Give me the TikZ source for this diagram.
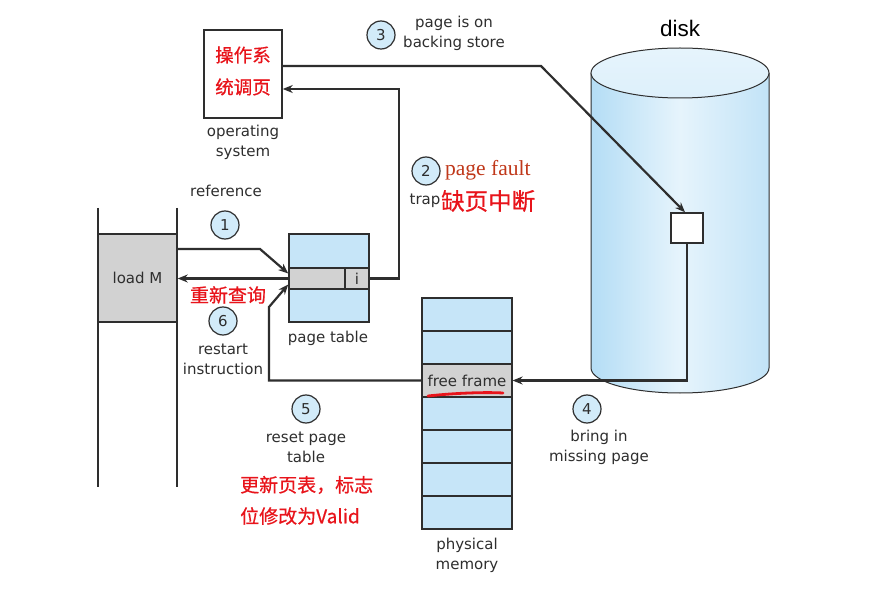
\documentclass[tikz,border=0pt]{standalone}
\usepackage{fontspec}
\setmainfont{DejaVu Sans}
\newfontfamily\cjk[BoldFont={Noto Sans CJK SC}, BoldFeatures={FakeBold=0.6}]{Noto Sans CJK SC}
\newfontfamily\serifpf{Liberation Serif}
\newfontfamily\diskfont{Liberation Sans}
\usetikzlibrary{arrows.meta,calc}
\definecolor{ink}{HTML}{2E2E2E}
\definecolor{lblue}{HTML}{C6E5F8}
\definecolor{cblue}{HTML}{D2EBF9}
\definecolor{gcell}{HTML}{D2D2D2}
\definecolor{redcn}{HTML}{E8141B}
\definecolor{pfault}{HTML}{C0381A}
\definecolor{cylL}{HTML}{B4DDF5}
\definecolor{cylM}{HTML}{E6F4FC}
\definecolor{cylR}{HTML}{C2E3F7}
\definecolor{cylT}{HTML}{DDF0FB}
\begin{document}
\begin{tikzpicture}[x=1pt,y=-1pt,
  box/.style={draw=ink, line width=1.5pt, inner sep=0pt},
  num/.style={circle, draw=ink, line width=1.2pt, fill=cblue, minimum size=28pt, inner sep=0pt, text=ink, font=\fontsize{15}{15}\selectfont},
  lbl/.style={text=ink, align=center, inner sep=0pt, font=\fontsize{15}{20}\selectfont},
  cn/.style={text=redcn, inner sep=0pt, font=\cjk\bfseries\fontsize{19}{30}\selectfont},
  conn/.style={draw=ink, line width=2.2pt, -{Stealth[length=10pt,width=8pt]}},
  wall/.style={draw=ink, line width=1.3pt}]
\useasboundingbox (0,0) rectangle (892,604);
\fill[white] (0,0) rectangle (892,604);

% disk cylinder
\path[left color=cylL, right color=cylR, middle color=cylM] (591,73) -- (591,368) arc[start angle=180, end angle=0, x radius=89, y radius=25] -- (769,73) -- cycle;
\draw[ink, line width=1pt] (591,73) -- (591,368) arc[start angle=180, end angle=0, x radius=89, y radius=25] -- (769,73);
\draw[ink, line width=1pt, top color=cylM, bottom color=cylT] (680,73) ellipse[x radius=89, y radius=25];
\node[inner sep=0pt, text=black, font=\diskfont\fontsize{22.5}{22.5}\selectfont] (disklbl) at (680,28) {disk};
\node[box, fill=white, minimum width=32pt, minimum height=30pt] (blk) at (687,228) {};

% operating system
\node[box, minimum width=78pt, minimum height=88pt] (os) at (243,74) {};
\node[cn, align=center, font=\cjk\bfseries\fontsize{18.5}{32}\selectfont] (ostext) at (243,71) {操作系\\统调页};
\node[lbl] (oslbl) at (243,142) {operating\\system};

% load M program
\node[box, fill=gcell, minimum width=79pt, minimum height=88pt, text=ink, font=\fontsize{15}{15}\selectfont] (ld) at (137.5,278) {load M};
\coordinate (wl1) at (98,208); \coordinate (wl2) at (98,487);
\coordinate (wr1) at (177,208); \coordinate (wr2) at (177,487);
\draw[wall] (wl1) -- (wl2);
\draw[wall] (wr1) -- (wr2);

% page table
\node[box, fill=lblue, minimum width=80pt, minimum height=88pt] (pt) at (329,278) {};
\node[box, fill=gcell, minimum width=80pt, minimum height=21pt] (row) at (329,278.5) {};
\node[box, fill=gcell, minimum width=24pt, minimum height=21pt, text=ink, font=\fontsize{15}{15}\selectfont] (icell) at (357,278.5) {i};
\node[lbl] (ptlbl) at (328,338) {page table};

% physical memory
\foreach \i in {1,...,7} {
  \node[box, line width=1.2pt, fill=lblue, minimum width=90pt, minimum height=33pt] (m\i) at (467,{281.5+33*\i}) {};
}
\node[box, line width=1.2pt, fill=gcell, minimum width=90pt, minimum height=33pt, text=ink, font=\fontsize{15}{15}\selectfont] (ff) at (467,380.5) {free frame};
\draw[redcn, line width=2.8pt, line cap=round] (428,396) .. controls (455,393) and (485,392) .. (503,393);
\node[lbl] (pmlbl) at (467,555) {physical\\memory};

% step 1
\node[num] (n1) at (225,225) {1};
\node[lbl] (t1) at (226,191) {reference};
\coordinate (k1) at (260,249);
\draw[conn] (ld.east |- k1) -- (k1) -- ($(row.west)+(0,-5)$);

% step 2
\coordinate (k2) at (399,89);
\draw[conn] (icell.east) -| (k2) -- (os.east |- k2);
\node[num] (n2) at (426,171) {2};
\node[anchor=west, inner sep=0pt, text=pfault, font=\serifpf\fontsize{21.5}{21.5}\selectfont] (pf) at (445,170) {page fault};
\node[lbl] (t2) at (425,201) {trap};
\node[cn, anchor=west, font=\cjk\bfseries\fontsize{23.5}{23.5}\selectfont] (t2cn) at (441,201) {缺页中断};

% step 3
\node[num] (n3) at (381,35) {3};
\node[lbl] (t3) at (454,33) {page is on\\backing store};
\coordinate (k3) at (541,66);
\draw[conn] (os.east |- k3) -- (k3) -- ($(blk.north)+(-2,0)$);

% step 4
\draw[conn] (blk.south) |- (ff.east);
\node[num] (n4) at (587,409) {4};
\node[lbl] (t4) at (599,447) {bring in\\missing page};

% step 5
\coordinate (k5a) at (269,380.5);
\coordinate (k5b) at (269,307);
\draw[conn] (ff.west) -- (k5a) -- (k5b) -- ($(row.west)+(0,6)$);
\node[num] (n5) at (306,409) {5};
\node[lbl] (t5) at (306,447) {reset page\\table};
\node[cn, anchor=west] (t5a) at (240,485) {更新页表，标志};
\node[cn, anchor=west] (t5b) at (240,516) {位修改为Valid};

% step 6
\draw[conn] (row.west) -- (ld.east |- row.west);
\node[cn] (t6cn) at (228,295) {重新查询};
\node[num] (n6) at (223,321) {6};
\node[lbl] (t6) at (223,359) {restart\\instruction};
\end{tikzpicture}
\end{document}
